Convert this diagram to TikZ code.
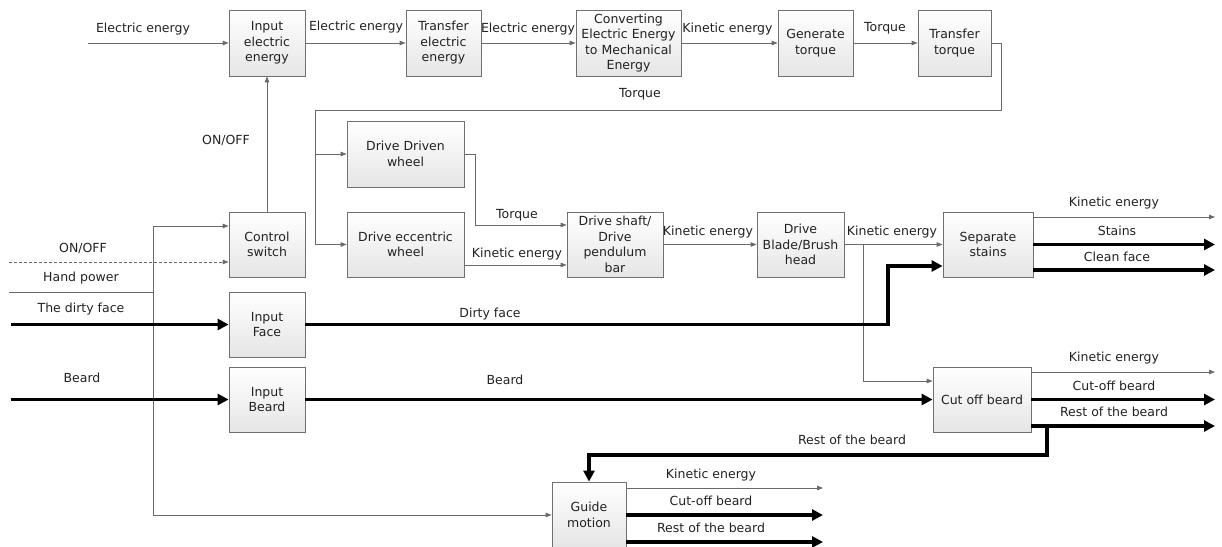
\documentclass[tikz,border=0pt]{standalone}
\usepackage{fontspec}
\setmainfont{DejaVu Sans}
\usetikzlibrary{arrows.meta,calc,shadows}
\definecolor{linegray}{HTML}{6A6A6A}
\definecolor{boxedge}{HTML}{707070}
\definecolor{txt}{HTML}{222222}
\begin{document}
\begin{tikzpicture}[x=1pt,y=-1pt,
  every node/.style={font=\fontsize{12.5}{15.5}\selectfont, text=txt},
  blk/.style={draw=boxedge, line width=0.8pt, top color=white, bottom color=black!10,
    drop shadow={opacity=0.18, shadow xshift=1.2pt, shadow yshift=-1.2pt},
    align=center, inner sep=1pt},
  lbl/.style={inner sep=0pt, anchor=base},
  thinl/.style={draw=linegray, line width=0.8pt},
  arr/.style={thinl, -{Triangle[length=6pt,width=4.5pt]}},
  flow/.style={draw=black, line width=3.2pt},
  farr/.style={flow, -{Triangle[length=11pt,width=11pt]}}
]
\useasboundingbox (0,0) rectangle (1222,546);

% ---- function blocks
\node[blk, minimum width=76, minimum height=66] (ie)   at (267,43)    {Input\\electric\\energy};
\node[blk, minimum width=75, minimum height=66] (te)   at (443.5,43)  {Transfer\\electric\\energy};
\node[blk, minimum width=105, minimum height=66] (conv) at (628.5,43) {Converting\\Electric Energy\\to Mechanical\\Energy};
\node[blk, minimum width=75, minimum height=66] (gen)  at (815.5,43)  {Generate\\torque};
\node[blk, minimum width=73, minimum height=66] (tt)   at (954.5,43)  {Transfer\\torque};
\node[blk, minimum width=117, minimum height=66] (ddw) at (405.5,154) {Drive Driven\\wheel};
\node[blk, minimum width=117, minimum height=65] (dew) at (405.5,244.5) {Drive eccentric\\wheel};
\node[blk, minimum width=76, minimum height=65] (cs)   at (267,244.5) {Control\\switch};
\node[blk, minimum width=96, minimum height=65] (ds)   at (615,244.5) {Drive shaft/\\Drive\\pendulum\\bar};
\node[blk, minimum width=87, minimum height=65] (bb)   at (800.5,244.5) {Drive\\Blade/Brush\\head};
\node[blk, minimum width=90, minimum height=65] (ss)   at (988,244.5) {Separate\\stains};
\node[blk, minimum width=76, minimum height=65] (inf)  at (267,324.5) {Input\\Face};
\node[blk, minimum width=76, minimum height=65] (inb)  at (267,399.5) {Input\\Beard};
\node[blk, minimum width=98, minimum height=65] (cob)  at (982,399.5) {Cut off beard};
\node[blk, minimum width=74, minimum height=66] (gm)   at (589,515)   {Guide\\motion};

% ---- free ends and bends
\coordinate (eeIn) at (88,43);
\coordinate (tqR)  at (1001,110);
\coordinate (tqL)  at (315,110);
\coordinate (onIn) at (9,262);
\coordinate (hpIn) at (9,292);
\coordinate (hpJ)  at (153,292);
\coordinate (dfIn) at (11,324.5);
\coordinate (bdIn) at (11,399.5);
\coordinate (dfUp) at (888,324.5);
\coordinate (keJ)  at (863,244.5);
\coordinate (rbJ)  at (1047,426);
\coordinate (rbLow) at (1047,455);
\coordinate (ssKE) at (1215,217);
\coordinate (ssST) at (1215,244.5);
\coordinate (ssCF) at (1215,270);
\coordinate (cbKE) at (1215,372);
\coordinate (cbCB) at (1215,399.5);
\coordinate (cbRB) at (1215,426);
\coordinate (gmKE) at (823,488);
\coordinate (gmCB) at (823,515);
\coordinate (gmRB) at (823,542);

% ---- energy chain
\draw[arr] (eeIn) -- (ie.west);
\draw[arr] (ie.east) -- (te.west);
\draw[arr] (te.east) -- (conv.west);
\draw[arr] (conv.east) -- (gen.west);
\draw[arr] (gen.east) -- (tt.west);
\draw[arr] (tt.east) -| (tqR) -- (tqL) |- (dew.west);
\draw[arr] (tqL |- ddw.west) -- (ddw.west);
\draw[arr] (cs.north) -- (ie.south);

% ---- operator inputs
\draw[arr, dashed, dash pattern=on 3pt off 2pt] (onIn) -- (onIn -| cs.west);
\draw[thinl] (hpIn) -- (hpJ);
\draw[arr] (hpJ) |- ($(cs.west)+(0,-18.5)$);
\draw[arr] (hpJ) |- (gm.west);
\draw[farr] (dfIn) -- (inf.west);
\draw[farr] (bdIn) -- (inb.west);

% ---- drive train
\draw[arr] (ddw.east) -| ++(11,0) |- ($(ds.west)+(0,-19.5)$);
\draw[arr] ($(dew.east)+(0,20.5)$) -- ($(ds.west)+(0,20.5)$);
\draw[arr] (ds.east) -- (bb.west);
\draw[arr] (bb.east) -- (ss.west);
\draw[arr] (keJ) |- ($(cob.west)+(0,-18.5)$);

% ---- material flows
\draw[farr] (inf.east) -- (dfUp) |- ($(ss.west)+(0,21.5)$);
\draw[farr] (inb.east) -- (cob.west);
\draw[arr]  ($(ss.east)+(0,-27.5)$) -- (ssKE);
\draw[farr] (ss.east) -- (ssST);
\draw[farr] ($(ss.east)+(0,25.5)$) -- (ssCF);
\draw[arr]  ($(cob.east)+(0,-27.5)$) -- (cbKE);
\draw[farr] (cob.east) -- (cbCB);
\draw[farr] ($(cob.east)+(0,26.5)$) -- (cbRB);
\draw[farr] (rbJ) -- (rbLow) -| (gm.north);
\draw[arr]  ($(gm.east)+(0,-27)$) -- (gmKE);
\draw[farr] (gm.east) -- (gmCB);
\draw[farr] ($(gm.east)+(0,27)$) -- (gmRB);

% ---- labels
\node[lbl] at (143,32) {Electric energy};
\node[lbl] at (356,30) {Electric energy};
\node[lbl] at (528,32) {Electric energy};
\node[lbl] at (727.5,32) {Kinetic energy};
\node[lbl] at (885,31) {Torque};
\node[lbl] at (640,97) {Torque};
\node[lbl] at (226,144) {ON/OFF};
\node[lbl] at (83,252) {ON/OFF};
\node[lbl] at (81,281) {Hand power};
\node[lbl] at (81,312) {The dirty face};
\node[lbl] at (82,382) {Beard};
\node[lbl] at (517,218) {Torque};
\node[lbl] at (517,257) {Kinetic energy};
\node[lbl] at (708,235) {Kinetic energy};
\node[lbl] at (892,235) {Kinetic energy};
\node[lbl] at (1114,206) {Kinetic energy};
\node[lbl] at (1117,235) {Stains};
\node[lbl] at (1117,261) {Clean face};
\node[lbl] at (490,317) {Dirty face};
\node[lbl] at (505,384) {Beard};
\node[lbl] at (1114,361) {Kinetic energy};
\node[lbl] at (1114,390) {Cut-off beard};
\node[lbl] at (1114,416) {Rest of the beard};
\node[lbl] at (852,444) {Rest of the beard};
\node[lbl] at (711,478) {Kinetic energy};
\node[lbl] at (711,505) {Cut-off beard};
\node[lbl] at (711,532) {Rest of the beard};
\end{tikzpicture}
\end{document}
